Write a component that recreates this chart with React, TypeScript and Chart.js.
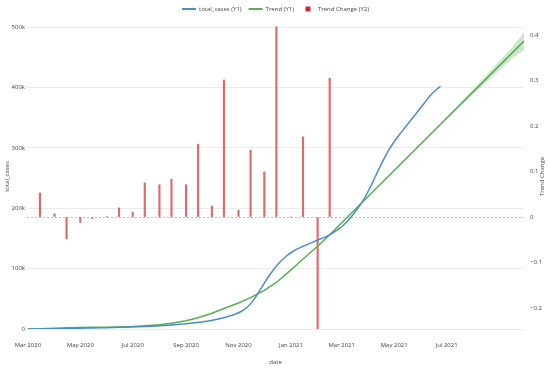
import React, { useEffect, useRef } from 'react';
import { Chart, registerables } from 'chart.js';

Chart.register(...registerables);

const FONT = '"Open Sans", "Liberation Sans", Arial, sans-serif';
const TEXT = '#444';
const BLUE = '#4a8fc7';
const GREEN = '#56b050';
const RED = '#d62728';
const BAR_RED = '#e06a6a';

// ---- data ----
const caseDates = [
  '2020-03-01', '2020-03-31', '2020-04-30', '2020-05-30', '2020-06-29', '2020-07-29',
  '2020-08-18', '2020-09-07', '2020-09-17', '2020-10-02', '2020-10-17', '2020-10-27',
  '2020-11-04', '2020-11-11', '2020-11-18', '2020-11-24', '2020-12-01', '2020-12-08',
  '2020-12-16', '2020-12-26', '2021-01-05', '2021-01-15', '2021-01-25', '2021-02-04',
  '2021-02-14', '2021-02-24', '2021-03-06', '2021-03-16', '2021-03-26', '2021-04-05',
  '2021-04-15', '2021-04-25', '2021-05-05', '2021-05-15', '2021-05-25', '2021-06-04',
  '2021-06-11', '2021-06-18', '2021-06-24',
];
const caseValues = [
  0, 400, 1300, 2200, 3200, 5000,
  7000, 9500, 11000, 14500, 19500, 24000,
  29000, 36000, 47000, 60000, 76000, 91000,
  106000, 120000, 130000, 137000, 143000, 149000,
  155000, 164000, 176000, 193000, 213000, 240000,
  270000, 297000, 318000, 336000, 354000, 372000,
  385000, 395000, 402000,
];

const trendDates = [
  '2020-03-01', '2020-03-15', '2020-04-01', '2020-04-15', '2020-05-01', '2020-05-15',
  '2020-06-01', '2020-06-15', '2020-07-01', '2020-07-15', '2020-08-01', '2020-08-15',
  '2020-09-01', '2020-09-15', '2020-10-01', '2020-10-15', '2020-11-01', '2020-11-15',
  '2020-12-01', '2020-12-15', '2021-01-01', '2021-01-15', '2021-02-01', '2021-02-15',
  '2021-09-30',
];
const trendValues = [
  0, 600, 1400, 2000, 2400, 2700,
  3100, 3500, 4100, 5200, 7200, 9700,
  13500, 18500, 26000, 34000, 43000, 52000,
  64000, 77000, 98000, 116000, 137000, 156000,
  478000,
];

const bandDates = ['2021-06-24', '2021-07-15', '2021-08-01', '2021-08-15', '2021-09-01', '2021-09-15', '2021-09-30'];
const bandUpper = [340000, 371500, 397000, 418500, 444500, 466000, 493000];
const bandLower = [338000, 366000, 389000, 407000, 429500, 447500, 463000];

const changeDates = [
  '2020-03-15', '2020-04-01', '2020-04-15', '2020-05-01', '2020-05-15', '2020-06-01',
  '2020-06-15', '2020-07-01', '2020-07-15', '2020-08-01', '2020-08-15', '2020-09-01',
  '2020-09-15', '2020-10-01', '2020-10-15', '2020-11-01', '2020-11-15', '2020-12-01',
  '2020-12-15', '2021-01-01', '2021-01-15', '2021-02-01', '2021-02-15',
];
const changeValues = [
  0.053, 0.007, -0.048, -0.012, -0.003, 0.001,
  0.02, 0.011, 0.075, 0.071, 0.083, 0.071,
  0.16, 0.024, 0.301, 0.015, 0.147, 0.099,
  0.418, 0, 0.176, -0.3, 0.305,
];

const xTickDates = ['2020-03-01', '2020-05-01', '2020-07-01', '2020-09-01', '2020-11-01', '2021-01-01', '2021-03-01', '2021-05-01', '2021-07-01'];
const xTickLabels = ['Mar 2020', 'May 2020', 'Jul 2020', 'Sep 2020', 'Nov 2020', 'Jan 2021', 'Mar 2021', 'May 2021', 'Jul 2021'];
const xRange = ['2020-02-29', '2021-09-29'];
const y1Ticks = [0, 100000, 200000, 300000, 400000, 500000];
const y1TickLabels = ['0', '100k', '200k', '300k', '400k', '500k'];
const y1Range = [0, 505000];
const y2Ticks = [-0.2, -0.1, 0, 0.1, 0.2, 0.3, 0.4];
const y2TickLabels = ['\u22120.2', '\u22120.1', '0', '0.1', '0.2', '0.3', '0.4'];
const y2Range = [-0.246, 0.424];

const xTitle = 'date';
const y1Title = 'total_cases';
const y2Title = 'Trend Change';

const BASE = Date.UTC(2020, 2, 1);
const toDay = (iso: string) => (Date.parse(iso + 'T00:00:00Z') - BASE) / 86400000;
const pts = (dates: string[], vals: number[]) => dates.map((d, i) => ({ x: toDay(d), y: vals[i] }));

const legendPlugin = {
  id: 'topLegend',
  afterDraw(chart: any) {
    const { ctx, chartArea } = chart;
    const items = chart.data.datasets
      .filter((d: any) => d.label)
      .map((d: any) => ({ text: d.label, kind: d.type === 'bar' ? 'box' : 'line', color: d.legendColor || d.borderColor }));
    ctx.save();
    ctx.font = `6px ${FONT}`;
    const sym = 14, gap = 3, sep = 7;
    const widths = items.map((it: any) => sym + gap + ctx.measureText(it.text).width);
    const total = widths.reduce((a: number, b: number) => a + b, 0) + sep * (widths.length - 1);
    let x = (chartArea.left + chartArea.right) / 2 - total / 2;
    const y = 9;
    items.forEach((it: any, i: number) => {
      if (it.kind === 'line') {
        ctx.strokeStyle = it.color;
        ctx.lineWidth = 2;
        ctx.beginPath();
        ctx.moveTo(x, y);
        ctx.lineTo(x + sym, y);
        ctx.stroke();
      } else {
        ctx.fillStyle = it.color;
        ctx.fillRect(x + sym / 2 - 2.5, y - 2.5, 5, 5);
      }
      ctx.fillStyle = TEXT;
      ctx.textAlign = 'left';
      ctx.textBaseline = 'middle';
      ctx.fillText(it.text, x + sym + gap, y);
      x += widths[i] + sep;
    });
    ctx.restore();
  },
};

const y2TitlePlugin = {
  id: 'y2Title',
  afterDraw(chart: any) {
    const { ctx, chartArea } = chart;
    ctx.save();
    ctx.translate(chart.width - 8, (chartArea.top + chartArea.bottom) / 2);
    ctx.rotate(-Math.PI / 2);
    ctx.font = `6px ${FONT}`;
    ctx.fillStyle = TEXT;
    ctx.textAlign = 'center';
    ctx.textBaseline = 'middle';
    ctx.fillText(y2Title, 0, 0);
    ctx.restore();
  },
};

export default function App() {
  const ref = useRef<HTMLCanvasElement | null>(null);
  useEffect(() => {
    if (!ref.current) return;
    const tickFont = { family: FONT, size: 6 };
    const chart = new Chart(ref.current, {
      type: 'line',
      data: {
        datasets: [
          {
            label: 'total_cases (Y1)',
            data: pts(caseDates, caseValues),
            borderColor: BLUE,
            borderWidth: 1.5,
            pointRadius: 0,
            cubicInterpolationMode: 'monotone',
            yAxisID: 'y',
          },
          {
            label: 'Trend (Y1)',
            data: pts(trendDates, trendValues),
            borderColor: GREEN,
            borderWidth: 1.5,
            pointRadius: 0,
            tension: 0,
            yAxisID: 'y',
          },
          {
            label: '',
            data: pts(bandDates, bandUpper),
            borderColor: 'rgba(0,0,0,0)',
            borderWidth: 0,
            pointRadius: 0,
            fill: false,
            yAxisID: 'y',
          },
          {
            label: '',
            data: pts(bandDates, bandLower),
            borderColor: 'rgba(0,0,0,0)',
            backgroundColor: 'rgba(86,176,80,0.3)',
            borderWidth: 0,
            pointRadius: 0,
            fill: '-1',
            yAxisID: 'y',
          },
          {
            type: 'bar',
            label: 'Trend Change (Y2)',
            data: pts(changeDates, changeValues),
            backgroundColor: BAR_RED,
            legendColor: RED,
            barThickness: 1.5,
            yAxisID: 'y2',
          } as any,
        ],
      },
      options: {
        animation: false,
        responsive: false,
        layout: { padding: { top: 24, left: 0, right: 0, bottom: 0 } },
        plugins: {
          legend: { display: false },
          tooltip: { enabled: false },
        },
        scales: {
          x: {
            type: 'linear',
            min: toDay(xRange[0]),
            max: toDay(xRange[1]),
            offset: false,
            afterBuildTicks: (s: any) => { s.ticks = xTickDates.map((d) => ({ value: toDay(d) })); },
            afterFit: (s: any) => { s.height = 41; },
            ticks: {
              font: tickFont,
              color: TEXT,
              padding: 13,
              maxRotation: 0,
              autoSkip: false,
              callback: (_v: any, i: number) => xTickLabels[i],
            },
            grid: { display: false, drawTicks: false },
            border: { display: false },
            title: { display: true, text: xTitle, font: tickFont, color: TEXT, padding: { top: 0, bottom: 4 } },
          },
          y: {
            type: 'linear',
            position: 'left',
            min: y1Range[0],
            max: y1Range[1],
            afterBuildTicks: (s: any) => { s.ticks = y1Ticks.map((v) => ({ value: v })); },
            afterFit: (s: any) => { s.width = 27; },
            ticks: {
              font: tickFont,
              color: TEXT,
              padding: 2,
              callback: (_v: any, i: number) => y1TickLabels[i],
            },
            grid: { color: '#ebebeb', drawTicks: false, lineWidth: 1 },
            border: { display: false },
            title: { display: true, text: y1Title, font: tickFont, color: TEXT, padding: { top: 4, bottom: 0 } },
          },
          y2: {
            type: 'linear',
            position: 'right',
            min: y2Range[0],
            max: y2Range[1],
            afterBuildTicks: (s: any) => { s.ticks = y2Ticks.map((v) => ({ value: v })); },
            afterFit: (s: any) => { s.width = 26; },
            ticks: {
              font: tickFont,
              color: TEXT,
              padding: 6,
              callback: (_v: any, i: number) => y2TickLabels[i],
            },
            grid: {
              drawTicks: false,
              color: (c: any) => (c.tick && c.tick.value === 0 ? '#bdbdbd' : 'rgba(0,0,0,0)'),
            },
            border: { display: false, dash: [2, 2] },
          },
        },
      } as any,
      plugins: [legendPlugin, y2TitlePlugin],
    });
    return () => chart.destroy();
  }, []);
  return (
    <div style={{ position: 'absolute', left: 0, top: 0, width: 550, height: 370, background: '#fff' }}>
      <canvas ref={ref} width={550} height={370} />
    </div>
  );
}
